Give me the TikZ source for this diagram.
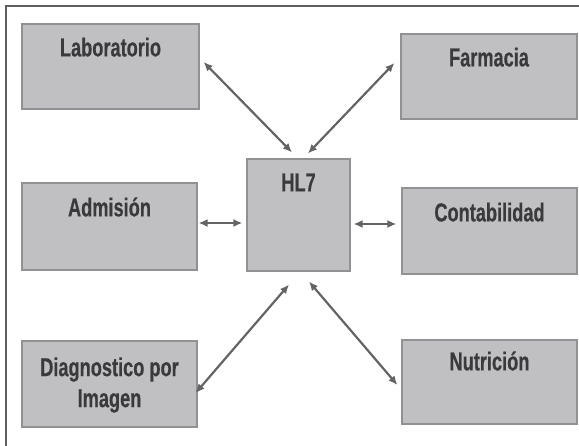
\documentclass[tikz,border=0pt]{standalone}
\usepackage{fontspec}
\newfontfamily\boxfont{Liberation Sans}[FakeStretch=0.70, FakeBold=0.4]
\usetikzlibrary{arrows.meta}
\definecolor{boxfill}{RGB}{192,192,194}
\definecolor{boxline}{RGB}{145,145,147}
\definecolor{boxtext}{RGB}{58,58,60}
\definecolor{arrowcol}{RGB}{100,100,102}
\definecolor{framecol}{RGB}{95,95,95}
\tikzset{
  sysbox/.style={draw=boxline, fill=boxfill, line width=1.2pt, rectangle,
    inner sep=0pt, minimum width=#1},
  sysbox/.default=176pt,
  boxlabel/.style={text=boxtext, font=\boxfont\bfseries\fontsize{26}{31}\selectfont,
    align=center, inner sep=0pt},
  link/.style={draw=arrowcol, line width=2.2pt,
    {Latex[length=9pt,width=8pt]}-{Latex[length=9pt,width=8pt]}}
}
\begin{document}
\begin{tikzpicture}[x=1pt, y=-1pt]
  \useasboundingbox (0,0) rectangle (579,446);
  % outer frame (left and top edges)
  \draw[framecol, line width=2pt] (6,446) -- (6,6) -- (579,6);

  % boxes
  \node[sysbox=177pt, minimum height=85pt] (lab) at (110.5,66.5) {};
  \node[sysbox=175pt, minimum height=87pt] (adm) at (109.5,226.5) {};
  \node[sysbox=175pt, minimum height=86pt] (diag) at (109.5,384) {};
  \node[sysbox=103pt, minimum height=112pt] (hl7) at (298.5,215) {};
  \node[sysbox=176pt, minimum height=85pt] (far) at (489,76.5) {};
  \node[sysbox=175pt, minimum height=86pt] (con) at (489.5,231) {};
  \node[sysbox=175pt, minimum height=84pt] (nut) at (489.5,382) {};

  % box titles
  \node[boxlabel, anchor=base] (labt) at ([yshift=-33pt]lab.north) {Laboratorio};
  \node[boxlabel, anchor=base] (admt) at ([yshift=-34pt]adm.north) {Admisión};
  \node[boxlabel, anchor=base] (hl7t) at ([yshift=-33pt]hl7.north) {HL7};
  \node[boxlabel, anchor=base] (fart) at ([yshift=-33pt]far.north) {Farmacia};
  \node[boxlabel, anchor=base] (cont) at ([yshift=-34pt]con.north) {Contabilidad};
  \node[boxlabel, anchor=base] (nutt) at ([yshift=-31pt]nut.north) {Nutrición};
  \node[boxlabel] (diagt) at ([yshift=-1pt]diag.center) {Diagnostico por\\Imagen};

  % links to the HL7 hub
  \draw[link] ([shift={(4,-4.5)}]lab.east) -- ([shift={(-6.5,-6)}]hl7.north);
  \draw[link] ([shift={(-6,-13.5)}]far.west) -- ([shift={(9.5,-5)}]hl7.north);
  \draw[link] ([shift={(1,-3.5)}]adm.east) -- ([shift={(-4,8)}]hl7.west);
  \draw[link] ([shift={(3,9)}]hl7.east) -- ([shift={(-5,-7)}]con.west);
  \draw[link] ([shift={(-2,9)}]diag.east) -- ([shift={(-9.5,13)}]hl7.south);
  \draw[link] ([shift={(10.5,10)}]hl7.south) -- ([shift={(-4,3)}]nut.west);
\end{tikzpicture}
\end{document}
